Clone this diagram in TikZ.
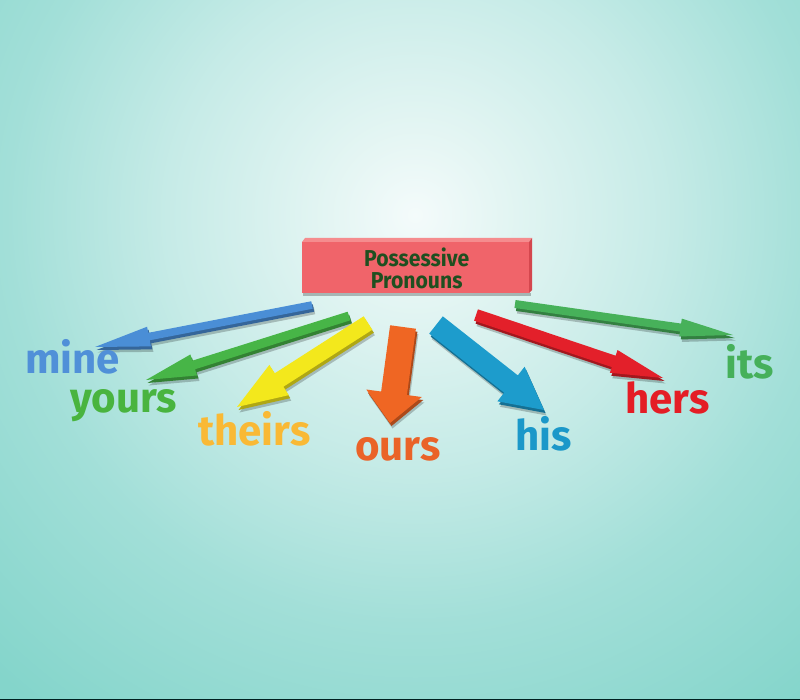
\documentclass[tikz,border=0pt]{standalone}
\usepackage{fontspec}
\setmainfont{Fira Sans}
\newfontfamily\ttlfont{Fira Sans}[FakeStretch=0.92]
\usetikzlibrary{calc}
\definecolor{bgA}{HTML}{F4FBFB}
\definecolor{bgB}{HTML}{E6F6F4}
\definecolor{bgC}{HTML}{C6EBE7}
\definecolor{bgD}{HTML}{A2DFD8}
\definecolor{bgE}{HTML}{84D5CB}
\definecolor{cMine}{HTML}{4A8ED6}
\definecolor{cYours}{HTML}{47B547}
\definecolor{cTheirs}{HTML}{F3E81C}
\definecolor{cOurs}{HTML}{EF6623}
\definecolor{cHis}{HTML}{1D9CCC}
\definecolor{cHers}{HTML}{E3202A}
\definecolor{cIts}{HTML}{47B15A}
\definecolor{tMine}{HTML}{5090D8}
\definecolor{tYours}{HTML}{49B43F}
\definecolor{tTheirs}{HTML}{F9B935}
\definecolor{tOurs}{HTML}{EA6328}
\definecolor{tHis}{HTML}{1B98C9}
\definecolor{tHers}{HTML}{E41D25}
\definecolor{tIts}{HTML}{46B05A}
\definecolor{boxred}{HTML}{F0646A}
\definecolor{boxtop}{HTML}{F58C8E}
\definecolor{boxside}{HTML}{D4474E}
\definecolor{titlegreen}{HTML}{1F4F20}
\pgfdeclareradialshading{bgshade}{\pgfpoint{0bp}{0bp}}{color(0bp)=(bgA); color(2.8bp)=(bgB); color(9.4bp)=(bgC); color(15.5bp)=(bgD); color(23.5bp)=(bgE); color(50bp)=(bgE)}
\newcommand\PPArrow[6]{%
  \coordinate (hb) at ($(#2)!#5!(#1)$);
  \def\PPpath{($(#1)!#3!90:(#2)$) -- ($(hb)!#3!90:(#2)$) -- ($(hb)!#4!90:(#2)$) -- (#2) -- ($(hb)!#4!-90:(#2)$) -- ($(hb)!#3!-90:(#2)$) -- ($(#1)!#3!-90:(#2)$) -- cycle}%
  \fill[black, opacity=0.22, transform canvas={shift={(2.5,5.5)}}] \PPpath;
  \fill[#6!72!black, transform canvas={shift={(1.5,3)}}] \PPpath;
  \fill[#6] \PPpath;
}
\tikzset{
  lbl/.style={font=\fontsize{42}{42}\selectfont\bfseries, inner sep=0pt, anchor=base west},
  ttl/.style={font=\ttlfont\fontsize{23}{22}\selectfont\bfseries, text=titlegreen, align=center, inner sep=0pt}
}
\begin{document}
\begin{tikzpicture}[x=1pt,y=-1pt]
\useasboundingbox (0,0) rectangle (800,700);
\begin{scope}
\clip (0,0) rectangle (800,700);
\shade[shading=bgshade] (415,215) circle (660);
\end{scope}
\fill[black!75!teal] (0,698.5) rectangle (800,700);
% title box
\fill[black, opacity=0.25] (303,293) rectangle (531,296);
\fill[boxtop] (302,242) -- (305,238) -- (532,238) -- (529,242) -- cycle;
\fill[boxside] (529,242) -- (532,238) -- (532,290) -- (529,293) -- cycle;
\node[fill=boxred, minimum width=227pt, minimum height=51pt, inner sep=0pt, anchor=north west] (box) at (302,242) {};
\node[ttl] (title) at ($(box.center)+(1,1)$) {Possessive\\Pronouns};
% arrow coordinates
\coordinate (mineT) at (312,305);   \coordinate (mineH) at (95,347);
\coordinate (yoursT) at (349,316);  \coordinate (yoursH) at (146,380);
\coordinate (theirsT) at (368,323); \coordinate (theirsH) at (237,407);
\coordinate (oursT) at (403,327);   \coordinate (oursH) at (390,423);
\coordinate (hisT) at (436,325);    \coordinate (hisH) at (544,410);
\coordinate (hersT) at (476,315);   \coordinate (hersH) at (663,378);
\coordinate (itsT) at (515,304);    \coordinate (itsH) at (733,335);
\PPArrow{mineT}{mineH}{3.8pt}{10pt}{55pt}{cMine}
\PPArrow{yoursT}{yoursH}{4.5pt}{11pt}{50pt}{cYours}
\PPArrow{theirsT}{theirsH}{8pt}{18pt}{50pt}{cTheirs}
\PPArrow{oursT}{oursH}{13pt}{28pt}{30pt}{cOurs}
\PPArrow{hisT}{hisH}{11pt}{22pt}{42pt}{cHis}
\PPArrow{hersT}{hersH}{6pt}{12pt}{52pt}{cHers}
\PPArrow{itsT}{itsH}{4pt}{9pt}{53pt}{cIts}
% labels
\node[lbl, text=tMine] (mine) at (25,373) {mine};
\node[lbl, text=tYours] (yours) at (70,412) {yours};
\node[lbl, text=tTheirs] (theirs) at (198,445) {theirs};
\node[lbl, text=tOurs] (ours) at (355,460) {ours};
\node[lbl, text=tHis] (his) at (515,450) {his};
\node[lbl, text=tHers] (hers) at (625,413) {hers};
\node[lbl, text=tIts] (its) at (725,378) {its};
\end{tikzpicture}
\end{document}
